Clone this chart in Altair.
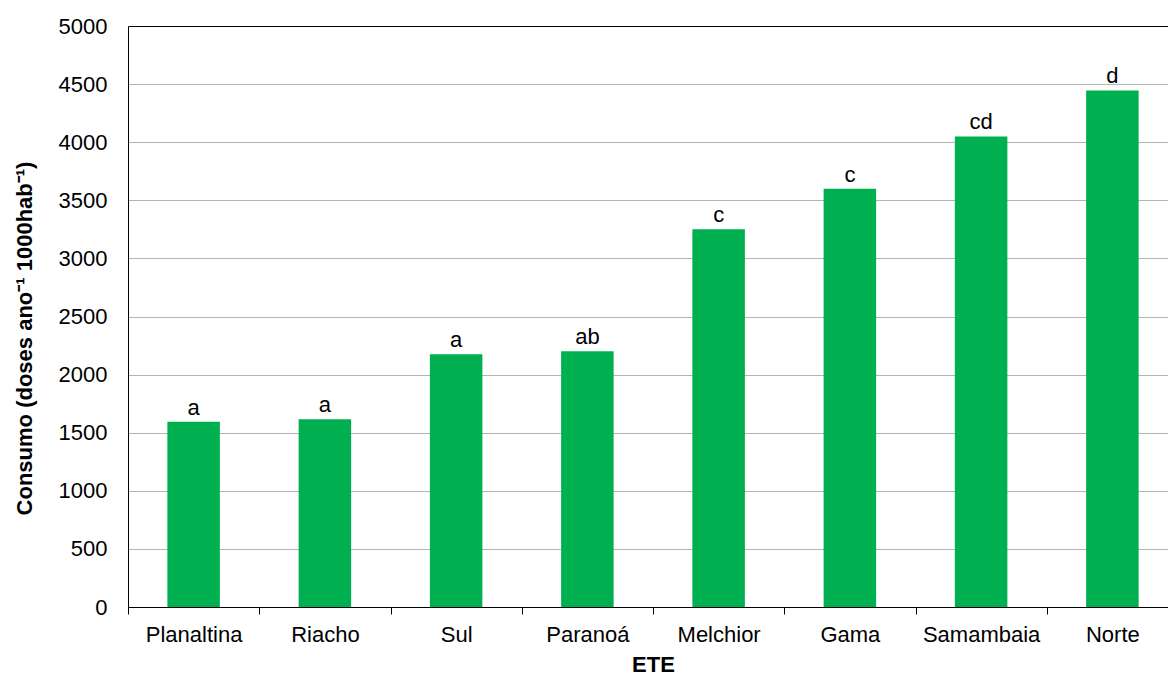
import altair as alt
import pandas as pd

# Consumption per wastewater treatment plant (ETE) with significance groups
stations = ["Planaltina", "Riacho", "Sul", "Paranoá", "Melchior", "Gama", "Samambaia", "Norte"]
consumption = [1595, 1615, 2175, 2200, 3250, 3600, 4050, 4445]
groups = ["a", "a", "a", "ab", "c", "c", "cd", "d"]
y_ticks = [0, 500, 1000, 1500, 2000, 2500, 3000, 3500, 4000, 4500, 5000]

df = pd.DataFrame({"ETE": stations, "consumo": consumption, "grupo": groups})

FONT = "Liberation Sans"
GREEN = "#00B050"

x_enc = alt.X(
    "ETE:N",
    sort=stations,
    title="ETE",
    scale=alt.Scale(range=[0, 1050], paddingInner=0, paddingOuter=0),
    axis=alt.Axis(
        labelAngle=0,
        tickBand="extent",
        tickSize=7,
        tickColor="black",
        domainColor="black",
        labelFont=FONT,
        labelFontSize=22,
        labelColor="black",
        labelPadding=10,
        titleFont=FONT,
        titleFontSize=22,
        titleFontWeight="bold",
        titleColor="black",
        titlePadding=9,
        grid=False,
    ),
)

y_enc = alt.Y(
    "consumo:Q",
    title="Consumo (doses ano⁻¹ 1000hab⁻¹)",
    scale=alt.Scale(domain=[0, 5000], nice=False),
    axis=alt.Axis(
        values=y_ticks,
        format="d",
        ticks=False,
        domainColor="black",
        labelFont=FONT,
        labelFontSize=22,
        labelColor="black",
        labelPadding=21,
        gridColor={"condition": {"test": "datum.value === 5000", "value": "black"}, "value": "#b4b4b4"},
        titleFont=FONT,
        titleFontSize=22,
        titleFontWeight="bold",
        titleColor="black",
        titlePadding=22,
        titleY=312,
    ),
)

bars = alt.Chart(df).mark_bar(color=GREEN, width={"band": 0.4}).encode(x=x_enc, y=y_enc)

letters = alt.Chart(df).mark_text(
    dy=-7, baseline="alphabetic", fontSize=22, font=FONT, color="black"
).encode(x=alt.X("ETE:N", sort=stations), y="consumo:Q", text="grupo:N")

chart = (
    alt.layer(bars, letters)
    .properties(
        width=1040,
        height=581,
        autosize=alt.AutoSizeParams(type="none"),
        padding={"left": 128, "top": 26, "right": 0, "bottom": 69},
        background="white",
    )
    .configure_view(stroke=None)
)

chart.save("out.html", embed_options={"renderer": "svg", "actions": False})
